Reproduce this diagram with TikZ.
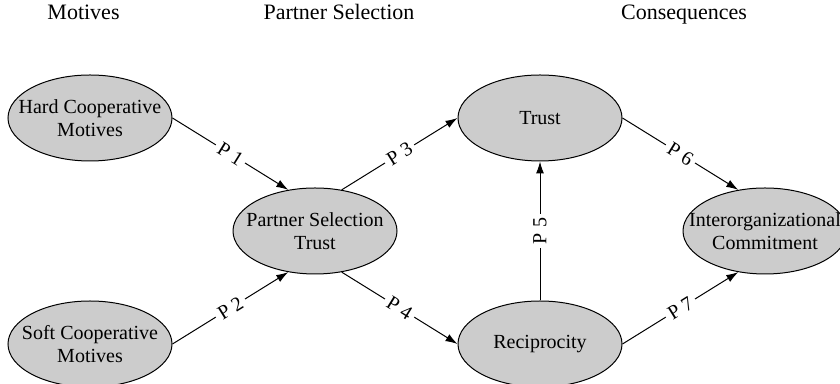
\documentclass[tikz,border=0pt]{standalone}
\usepackage{fontspec}
\setmainfont{Liberation Serif}
\usetikzlibrary{shapes.geometric,positioning,arrows.meta}

\definecolor{blockgray}{gray}{0.8}

\tikzstyle{block} = [ellipse, draw, fill=blockgray, line width=0.5pt,
    align=center, font=\fontsize{10}{11.5}\selectfont,
    inner xsep=-12pt, inner ysep=0pt, minimum width=82pt, minimum height=43pt]
\tikzstyle{description}=[sloped, anchor=center, fill=white, inner sep=2pt, font=\fontsize{10}{12}\selectfont]
\tikzstyle{heading}=[anchor=base, font=\fontsize{11}{13}\selectfont]
\tikzstyle{line} = [draw, line width=0.5pt, -{Latex[length=6pt,width=4pt]}]

\begin{document}
\begin{tikzpicture}[node distance =112.5pt, x=1pt, y=1pt]
\useasboundingbox (0,0) rectangle (420,192);

\node (PartnerTrust) [block] at (157.5,76.5) {Partner Selection\\Trust};

%Left
\coordinate [left of=PartnerTrust] (T1);
\node (HardMotives) [block, above of=T1, node distance=56.5pt] {Hard Cooperative\\Motives};
\node (SoftMotives) [block, below of=T1, node distance=56.5pt] {Soft Cooperative\\Motives};

%Right
\coordinate [right of=PartnerTrust] (T2);
\node (Trust) [block, above of=T2, node distance=56.5pt] {Trust};
\node (Reciprocity) [block, below of=T2, node distance=56.5pt] {Reciprocity};
\node (Commitment) [block, right of=T2] {Interorganizational\\Commitment};

%Headings
\node (MotivesHead) [heading] at (41.75,182) {Motives};
\node (SelectionHead) [heading] at (169.5,182) {Partner Selection};
\node (ConsequencesHead) [heading] at (342,182) {Consequences};

\path [line](HardMotives.east)--node[description]{P 1}(PartnerTrust.123);
\path [line](SoftMotives.east)--node[description]{P 2}(PartnerTrust.237);
\path [line](PartnerTrust.57)--node[description]{P 3}(Trust.west);
\path [line](PartnerTrust.303)--node[description]{P 4}(Reciprocity.west);
\path [line](Reciprocity.north)--node[description]{P 5}(Trust.south);
\path [line](Trust.east)--node[description]{P 6}(Commitment.123);
\path [line](Reciprocity.east)--node[description]{P 7}(Commitment.237);

\end{tikzpicture}
\end{document}
